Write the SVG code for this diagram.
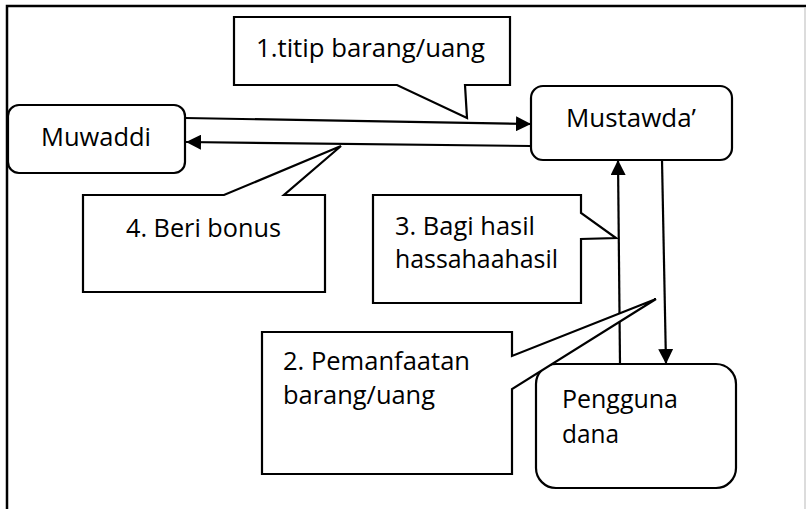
<svg xmlns="http://www.w3.org/2000/svg" width="806" height="509" viewBox="0 0 806 509">
  <style>
    .box { fill: #ffffff; stroke: #000000; stroke-width: 2.2; }
    .call { fill: #ffffff; stroke: #000000; stroke-width: 2.2; stroke-linejoin: miter; }
    .edge { fill: none; stroke: #000000; stroke-width: 2.2; }
    .lbl { font-family: "Open Sans", "Liberation Sans", sans-serif; font-size: 25.5px; fill: #000000; }
  </style>
  <defs>
    <marker id="head" viewBox="0 0 12 12" refX="12" refY="6" markerWidth="15" markerHeight="15" orient="auto" markerUnits="userSpaceOnUse">
      <path d="M0,0 L12,6 L0,12 Z" fill="#000000"/>
    </marker>
  </defs>

  <rect x="0" y="0" width="806" height="509" fill="#ffffff"/>

  <!-- page frame -->
  <g id="frame">
    <path d="M7,509 L7,6 L806,6" fill="none" stroke="#000000" stroke-width="2.5"/>
    <line x1="805" y1="8" x2="805" y2="509" stroke="#d0d0d0" stroke-width="1.5"/>
  </g>

  <!-- flows between parties -->
  <g id="connectors">
    <line class="edge" x1="185" y1="118" x2="531" y2="124" marker-end="url(#head)"/>
    <line class="edge" x1="531" y1="146" x2="186" y2="142" marker-end="url(#head)"/>
    <line class="edge" x1="620" y1="364" x2="618" y2="160" marker-end="url(#head)"/>
    <line class="edge" x1="662" y1="160" x2="666" y2="364" marker-end="url(#head)"/>
  </g>

  <g id="muwaddi">
    <rect class="box" x="8" y="105" width="177" height="68" rx="11"/>
    <text class="lbl" x="41" y="146" textLength="110" lengthAdjust="spacingAndGlyphs">Muwaddi</text>
  </g>

  <g id="mustawda">
    <rect class="box" x="531" y="86" width="201" height="74" rx="12"/>
    <text class="lbl" x="566" y="127" textLength="130" lengthAdjust="spacingAndGlyphs">Mustawda’</text>
  </g>

  <g id="pengguna-dana">
    <rect class="box" x="536" y="364" width="200" height="124" rx="20"/>
    <text class="lbl" x="562" y="408" textLength="116" lengthAdjust="spacingAndGlyphs">Pengguna</text>
    <text class="lbl" x="562" y="443" textLength="57" lengthAdjust="spacingAndGlyphs">dana</text>
  </g>

  <g id="note-1">
    <path class="call" d="M234,17 L510,17 L510,85 L465,85 L467,118 L397,85 L234,85 Z"/>
    <text class="lbl" x="256" y="57" textLength="229" lengthAdjust="spacingAndGlyphs">1.titip barang/uang</text>
  </g>

  <g id="note-4">
    <path class="call" d="M83,195 L224,195 L341,146 L284,195 L325,195 L325,292 L83,292 Z"/>
    <text class="lbl" x="126" y="237" textLength="155" lengthAdjust="spacingAndGlyphs">4. Beri bonus</text>
  </g>

  <g id="note-3">
    <path class="call" d="M373,195 L581,195 L581,213 L616,238 L581,239 L581,303 L373,303 Z"/>
    <text class="lbl" x="395" y="235" textLength="140" lengthAdjust="spacingAndGlyphs">3. Bagi hasil</text>
    <text class="lbl" x="395" y="268" textLength="163" lengthAdjust="spacingAndGlyphs">hassahaahasil</text>
  </g>

  <g id="note-2">
    <path class="call" d="M262,332 L512,332 L512,356 L656,299 L512,389 L512,474 L262,474 Z"/>
    <text class="lbl" x="283" y="370" textLength="187" lengthAdjust="spacingAndGlyphs">2. Pemanfaatan</text>
    <text class="lbl" x="283" y="404" textLength="152" lengthAdjust="spacingAndGlyphs">barang/uang</text>
  </g>
</svg>
